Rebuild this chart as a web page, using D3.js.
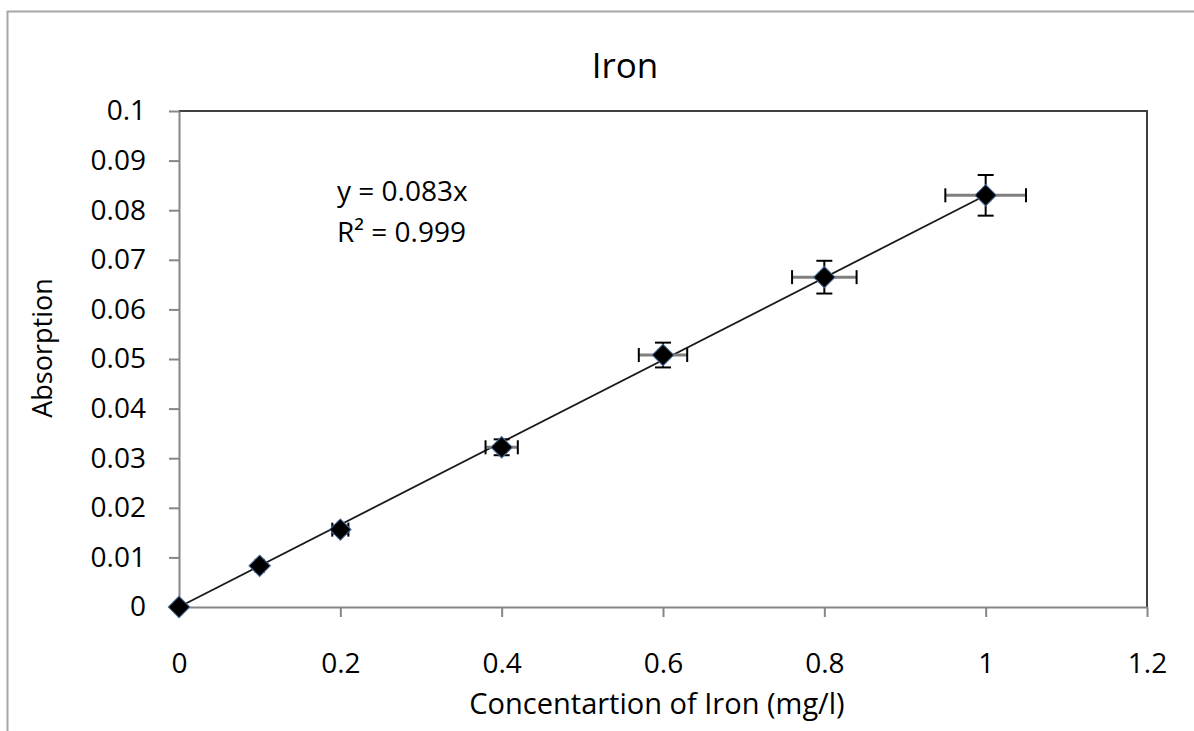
<!DOCTYPE html>
<html>
<head>
<meta charset="utf-8">
<script src="https://cdn.jsdelivr.net/npm/d3@7"></script>
<style>
  html, body { margin: 0; padding: 0; background: #fff; }
  svg { display: block; font-family: "Open Sans", sans-serif; }
</style>
</head>
<body>
<div id="wrapper"></div>
<script>
const width = 1194,
    height = 731,
    plot = {left: 179, top: 111, right: 1147, bottom: 607};

// concentration (mg/l) and absorption, with 5% error bars
const conc      = [0, 0.1, 0.2, 0.4, 0.6, 0.8, 1.0];
const absorb    = [0, 0.0083, 0.0156, 0.0322, 0.0508, 0.0665, 0.083];
const concErr   = [0, 0.005, 0.01, 0.02, 0.03, 0.04, 0.05];
const absorbErr = [0, 0.0004, 0.0008, 0.0016, 0.0025, 0.0033, 0.0041];

const slope = 0.083;
const trendX = [0, 1];

const xTicks = [0, 0.2, 0.4, 0.6, 0.8, 1, 1.2];
const yTicks = [0, 0.01, 0.02, 0.03, 0.04, 0.05, 0.06, 0.07, 0.08, 0.09, 0.1];

const title = "Iron",
    xTitle = "Concentartion of Iron (mg/l)",
    yTitle = "Absorption",
    eqText = ["y = 0.083x", "R² = 0.999"];

const x = d3.scaleLinear().domain([0, 1.2]).range([plot.left, plot.right]);
const y = d3.scaleLinear().domain([0, 0.1]).range([plot.bottom, plot.top]);

const svg = d3.select('#wrapper').append('svg')
    .attr('width', width)
    .attr('height', height);

// chart area border (runs off the right and bottom of the picture)
svg.append('rect')
    .attr('x', 7.5).attr('y', 11.5)
    .attr('width', 1300).attr('height', 900)
    .attr('fill', 'none')
    .attr('stroke', '#a6a6a6')
    .attr('stroke-width', 2);

// plot area frame: top and right dark
svg.append('path')
    .attr('d', `M${plot.left},${plot.top}H${plot.right}V${plot.bottom}`)
    .attr('fill', 'none')
    .attr('stroke', '#404040')
    .attr('stroke-width', 2);

const xAxis = svg.append('g')
    .attr('transform', `translate(0,${plot.bottom})`)
    .call(d3.axisBottom(x).tickValues(xTicks).tickFormat(d => String(d)).tickSize(10).tickPadding(36).tickSizeOuter(0));

const yAxis = svg.append('g')
    .attr('transform', `translate(${plot.left},0)`)
    .call(d3.axisLeft(y).tickValues(yTicks).tickFormat(d => String(d)).tickSize(10).tickPadding(23).tickSizeOuter(0));

[xAxis, yAxis].forEach(a => {
    a.select('.domain').attr('stroke', '#868686').attr('stroke-width', 2);
    a.selectAll('.tick line').attr('stroke', '#868686').attr('stroke-width', 2);
    a.selectAll('.tick text')
        .attr('fill', '#000')
        .style('font-family', '"Open Sans", sans-serif')
        .style('font-size', '28px');
});

// trendline through origin
svg.append('line')
    .attr('x1', x(trendX[0])).attr('y1', y(slope * trendX[0]))
    .attr('x2', x(trendX[1])).attr('y2', y(slope * trendX[1]))
    .attr('stroke', '#1a1a1a')
    .attr('stroke-width', 1.8);

const pts = conc.map((c, i) => ({c, a: absorb[i], ce: concErr[i], ae: absorbErr[i]}));

const eb = svg.append('g').selectAll('g')
    .data(pts)
    .enter().append('g');

// horizontal error bars
eb.append('line')
    .attr('x1', d => x(d.c - d.ce)).attr('x2', d => x(d.c + d.ce))
    .attr('y1', d => y(d.a)).attr('y2', d => y(d.a))
    .attr('stroke', '#7f7f7f').attr('stroke-width', 3);
eb.selectAll('.xcap')
    .data(d => d.ce > 0 ? [[d.c - d.ce, d.a], [d.c + d.ce, d.a]] : [])
    .enter().append('line')
    .attr('x1', d => x(d[0])).attr('x2', d => x(d[0]))
    .attr('y1', d => y(d[1]) - 7).attr('y2', d => y(d[1]) + 7)
    .attr('stroke', '#000').attr('stroke-width', 2);

// vertical error bars
eb.append('line')
    .attr('x1', d => x(d.c)).attr('x2', d => x(d.c))
    .attr('y1', d => y(d.a - d.ae)).attr('y2', d => y(d.a + d.ae))
    .attr('stroke', '#000').attr('stroke-width', 2);
eb.selectAll('.ycap')
    .data(d => d.ae > 0 ? [[d.c, d.a - d.ae], [d.c, d.a + d.ae]] : [])
    .enter().append('line')
    .attr('x1', d => x(d[0]) - 8).attr('x2', d => x(d[0]) + 8)
    .attr('y1', d => y(d[1])).attr('y2', d => y(d[1]))
    .attr('stroke', '#000').attr('stroke-width', 2);

// diamond markers
svg.append('g').selectAll('path')
    .data(pts)
    .enter().append('path')
    .attr('d', d3.symbol(d3.symbolSquare, 230))
    .attr('transform', d => `translate(${x(d.c)},${y(d.a)}) rotate(45)`)
    .attr('fill', '#000')
    .attr('stroke', '#4a6f9a')
    .attr('stroke-width', 1);

// texts
svg.append('text')
    .attr('x', 625).attr('y', 78)
    .attr('text-anchor', 'middle')
    .style('font-size', '35px')
    .text(title);

svg.append('text')
    .attr('x', 657).attr('y', 714)
    .attr('text-anchor', 'middle')
    .style('font-size', '29px')
    .text(xTitle);

svg.append('text')
    .attr('transform', 'translate(52,348) rotate(-90)')
    .attr('text-anchor', 'middle')
    .style('font-size', '27px')
    .text(yTitle);

svg.append('g').selectAll('text')
    .data(eqText)
    .enter().append('text')
    .attr('x', 337)
    .attr('y', (d, i) => 201 + i * 41)
    .style('font-size', '28px')
    .text(d => d);
</script>
</body>
</html>
